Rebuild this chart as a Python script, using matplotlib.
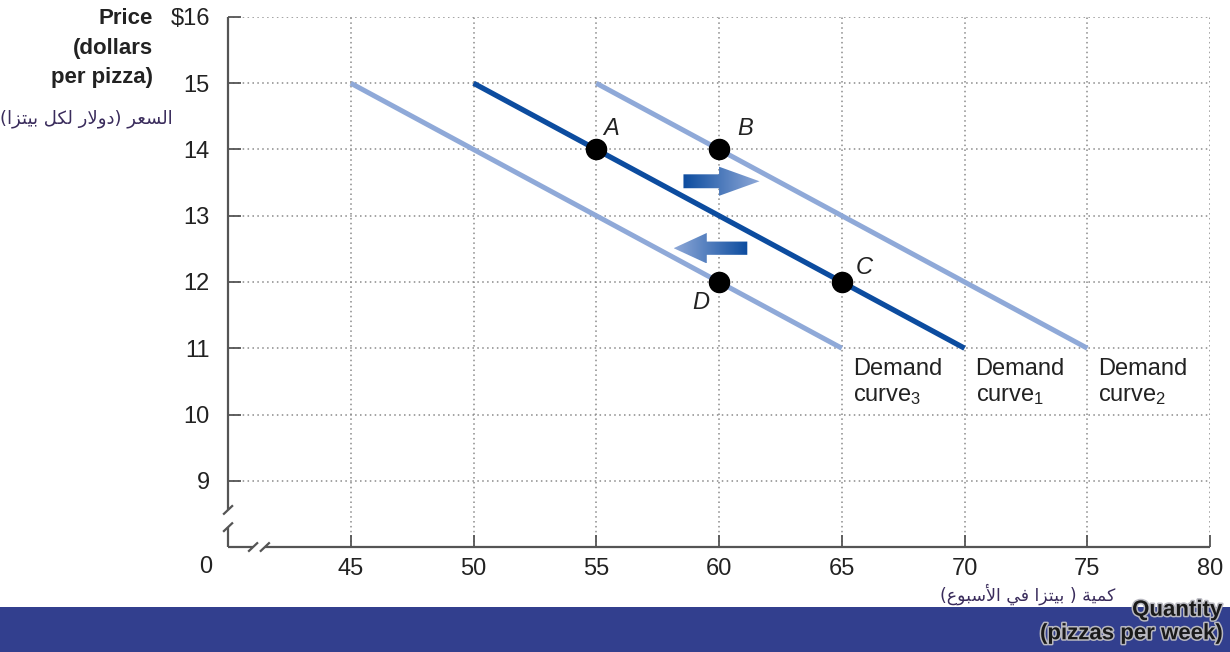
import numpy as np
import matplotlib
matplotlib.use("Agg")
import matplotlib.pyplot as plt
from matplotlib.patches import Polygon, Rectangle
from matplotlib.colors import LinearSegmentedColormap
import matplotlib.patheffects as pe

plt.rcParams['font.family'] = ['Liberation Sans', 'DejaVu Sans']
plt.rcParams['mathtext.fontset'] = 'custom'
plt.rcParams['mathtext.rm'] = 'Liberation Sans'
plt.rcParams['mathtext.it'] = 'Liberation Sans:italic'

# data
x_ticks = [45, 50, 55, 60, 65, 70, 75, 80]
y_ticks = [9, 10, 11, 12, 13, 14, 15, 16]
y_tick_labels = ['9', '10', '11', '12', '13', '14', '15', '$16']

curve3_q = [45, 65]
curve3_p = [15, 11]
curve1_q = [50, 70]
curve1_p = [15, 11]
curve2_q = [55, 75]
curve2_p = [15, 11]

point_names = ['A', 'B', 'C', 'D']
point_q = [55, 60, 65, 60]
point_p = [14, 14, 12, 12]

curve_labels = ['Demand\ncurve$_3$', 'Demand\ncurve$_1$', 'Demand\ncurve$_2$']

price_label_ar = 'السعر (دولار لكل بيتزا)'
qty_label_ar = 'كمية ( بيتزا في الأسبوع)'

# arabic shaping (matplotlib does no joining / bidi on its own)
FORMS = {
    'ا': ('\uFE8D', '\uFE8E', None, None),
    'أ': ('\uFE83', '\uFE84', None, None),
    'د': ('\uFEA9', '\uFEAA', None, None),
    'ر': ('\uFEAD', '\uFEAE', None, None),
    'ز': ('\uFEAF', '\uFEB0', None, None),
    'و': ('\uFEED', '\uFEEE', None, None),
    'ة': ('\uFE93', '\uFE94', None, None),
    'ل': ('\uFEDD', '\uFEDE', '\uFEDF', '\uFEE0'),
    'س': ('\uFEB1', '\uFEB2', '\uFEB3', '\uFEB4'),
    'ع': ('\uFEC9', '\uFECA', '\uFECB', '\uFECC'),
    'ك': ('\uFED9', '\uFEDA', '\uFEDB', '\uFEDC'),
    'ب': ('\uFE8F', '\uFE90', '\uFE91', '\uFE92'),
    'ي': ('\uFEF1', '\uFEF2', '\uFEF3', '\uFEF4'),
    'ت': ('\uFE95', '\uFE96', '\uFE97', '\uFE98'),
    'م': ('\uFEE1', '\uFEE2', '\uFEE3', '\uFEE4'),
    'ف': ('\uFED1', '\uFED2', '\uFED3', '\uFED4'),
}
LAMALEF = {'ا': ('\uFEFB', '\uFEFC'), 'أ': ('\uFEF7', '\uFEF8')}


def shape_ar(s):
    res = []
    i = 0
    while i < len(s):
        c = s[i]
        if c not in FORMS:
            res.append(c)
            i += 1
            continue
        prev_joins = i > 0 and s[i - 1] in FORMS and FORMS[s[i - 1]][2] is not None
        if c == 'ل' and i + 1 < len(s) and s[i + 1] in LAMALEF:
            iso, fin = LAMALEF[s[i + 1]]
            res.append(fin if prev_joins else iso)
            i += 2
            continue
        iso, fin, ini, med = FORMS[c]
        nxt = i + 1 < len(s) and s[i + 1] in FORMS and ini is not None
        if prev_joins and nxt:
            res.append(med)
        elif prev_joins:
            res.append(fin)
        elif nxt:
            res.append(ini)
        else:
            res.append(iso)
        i += 1
    mirror = {'(': ')', ')': '('}
    return ''.join(mirror.get(ch, ch) for ch in reversed(res))


dark = '#0c4c9f'
light = '#8fa9d8'
axis_col = '#555555'
txt = '#222222'
fs = 17

fig = plt.figure(figsize=(12.3, 6.52), dpi=100)
ax = fig.add_axes([0.1854, 0.161, 0.7984, 0.813])
ax.set_xlim(40, 80)
ax.set_ylim(8, 16)

for s in ax.spines.values():
    s.set_visible(False)

ax.set_xticks(x_ticks)
ax.set_xticklabels([str(v) for v in x_ticks])
ax.set_yticks(y_ticks)
ax.set_yticklabels(y_tick_labels)
ax.tick_params(direction='in', length=9, width=1.3, color=axis_col,
               labelsize=fs, labelcolor=txt)
ax.tick_params(axis='x', pad=8)
ax.tick_params(axis='y', pad=13)
ax.grid(True, color='#8a8a8a', linestyle=(0, (1, 2.2)), linewidth=1.1, zorder=0)

# axes with breaks
kw = dict(color=axis_col, lw=1.6, clip_on=False, zorder=3, solid_capstyle='butt')
ax.plot([40, 40], [16, 8.56], **kw)
ax.plot([40, 40], [8.30, 8], **kw)
ax.plot([40, 41.02], [8, 8], **kw)
ax.plot([41.5, 80], [8, 8], **kw)
for yb in [8.56, 8.30]:
    ax.plot([39.8, 40.2], [yb - 0.07, yb + 0.07], **kw)
for xb in [41.02, 41.5]:
    ax.plot([xb - 0.2, xb + 0.2], [8 - 0.07, 8 + 0.07], **kw)
ax.text(39.1, 8 - 0.13, '0', ha='center', va='top', fontsize=fs, color=txt)

# demand curves
ax.plot(curve3_q, curve3_p, color=light, lw=3.6, zorder=3, solid_capstyle='butt')
ax.plot(curve2_q, curve2_p, color=light, lw=3.6, zorder=3, solid_capstyle='butt')
ax.plot(curve1_q, curve1_p, color=dark, lw=3.8, zorder=4, solid_capstyle='butt')

ax.plot(point_q, point_p, 'o', color='black', markersize=14.5, zorder=6)
label_off = {'A': (0.3, 0.31), 'B': (0.75, 0.31), 'C': (0.55, 0.22), 'D': (-1.1, -0.31)}
for n, q, p in zip(point_names, point_q, point_p):
    dx, dy = label_off[n]
    ax.text(q + dx, p + dy, n, fontsize=fs, style='italic', color=txt,
            ha='left', va='center', zorder=7)

for lab, q in zip(curve_labels, [65, 70, 75]):
    ax.text(q + 0.45, 10.86, lab, fontsize=fs, color=txt, ha='left', va='top',
            linespacing=1.25, zorder=5)

# gradient arrows
cmap = LinearSegmentedColormap.from_list('arr', [dark, light])


def grad_arrow(x0, x1, xh, yc, hs, hh):
    d = np.sign(x1 - x0)
    verts = [(x0, yc - hs), (xh, yc - hs), (xh, yc - hh), (x1, yc),
             (xh, yc + hh), (xh, yc + hs), (x0, yc + hs)]
    poly = Polygon(verts, closed=True, facecolor='none', edgecolor='none')
    ax.add_patch(poly)
    g = np.linspace(0, 1, 256).reshape(1, -1)
    if d < 0:
        g = g[:, ::-1]
    im = ax.imshow(g, cmap=cmap, aspect='auto', zorder=5,
                   extent=[min(x0, x1), max(x0, x1), yc - hh, yc + hh])
    im.set_clip_path(poly)


grad_arrow(58.55, 61.65, 60.0, 13.52, 0.105, 0.22)
grad_arrow(61.15, 58.15, 59.5, 12.51, 0.1, 0.23)
ax.set_xlim(40, 80)
ax.set_ylim(8, 16)

# axis titles
fig.text(0.1245, 0.988, 'Price\n(dollars\nper pizza)', ha='right', va='top',
         fontsize=16, fontweight='bold', color=txt, linespacing=1.55)
fig.text(0.0, 0.818, shape_ar(price_label_ar), ha='left', va='center',
         fontsize=13, color='#3a2c5c', family=['DejaVu Sans'])

# blue band at bottom
fig.patches.append(Rectangle((0, 0), 1, 0.069, transform=fig.transFigure,
                             facecolor='#323f8e', edgecolor='none', zorder=0))
fig.text(0.907, 0.089, shape_ar(qty_label_ar), ha='right', va='center',
         fontsize=12.5, color='#3a2c5c', family=['DejaVu Sans'])
stroke = [pe.withStroke(linewidth=2.2, foreground='#b8b8c0')]
fig.text(0.9935, 0.064, 'Quantity', ha='right', va='center', fontsize=16,
         fontweight='bold', color='#1a1a1a', path_effects=stroke, zorder=5)
fig.text(0.9935, 0.028, '(pizzas per week)', ha='right', va='center', fontsize=16,
         fontweight='bold', color='#1a1a1a', path_effects=stroke, zorder=5)

fig.savefig('out.png', dpi=100)
